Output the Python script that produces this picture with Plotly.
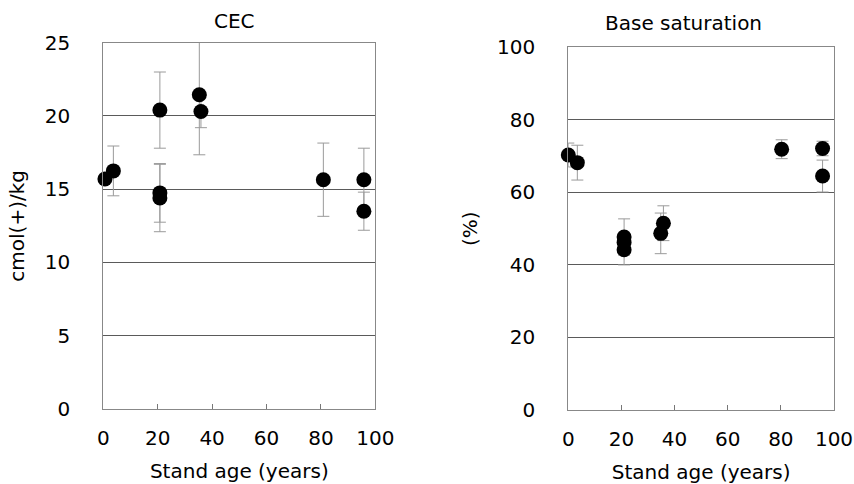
import plotly.graph_objects as go

# CEC panel
ages_cec = [0.6, 3.7, 20.8, 20.8, 20.8, 35.3, 35.9, 80.9, 95.8, 95.8]
cec = [15.7, 16.25, 20.4, 14.75, 14.4, 21.45, 20.3, 15.65, 15.65, 13.5]
cec_err = [0.0, 1.7, 2.6, 2.0, 2.3, 4.1, 1.1, 2.5, 2.15, 1.3]

# Base saturation panel
ages_bs = [0.0, 3.4, 21.0, 21.0, 21.0, 34.8, 35.8, 80.3, 95.7, 95.7]
bs = [70.3, 68.2, 47.7, 46.2, 44.2, 48.7, 51.5, 71.9, 72.1, 64.5]
bs_err = [3.3, 4.8, 5.0, 0.0, 4.2, 5.6, 4.8, 2.6, 2.0, 4.4]

x_ticks = [0, 20, 40, 60, 80, 100]
cec_ticks = [0, 5, 10, 15, 20, 25]
bs_ticks = [0, 20, 40, 60, 80, 100]

FONT = "DejaVu Sans"
W, H = 854, 484


def px(x):
    return x / W


def py(y):
    return (H - y) / H


fig = go.Figure()

err_style = dict(type="data", color="#9a9a9a", thickness=1, width=6)
mk = dict(color="black", size=15, symbol="circle")

fig.add_trace(go.Scatter(x=ages_cec, y=cec, mode="markers", marker=mk,
                         error_y=dict(array=cec_err, **err_style),
                         xaxis="x", yaxis="y", cliponaxis=False, showlegend=False))
fig.add_trace(go.Scatter(x=ages_bs, y=bs, mode="markers", marker=mk,
                         error_y=dict(array=bs_err, **err_style),
                         xaxis="x2", yaxis="y2", cliponaxis=False, showlegend=False))


def xax(domain, anchor):
    return dict(domain=domain, anchor=anchor, range=[0, 100], tickvals=x_ticks,
                ticks="inside", ticklen=5, tickcolor="#777", showgrid=False,
                showline=True, linecolor="#888", linewidth=1, mirror=True,
                zeroline=False, ticklabelstandoff=11, automargin=False,
                tickfont=dict(family=FONT, size=20, color="black"),
                title=dict(text="Stand age (years)", standoff=14,
                           font=dict(family=FONT, size=20, color="black")))


def yax(domain, anchor, rng, tv, title, standoff):
    return dict(domain=domain, anchor=anchor, range=rng, tickvals=tv, ticks="",
                showgrid=True, gridcolor="#5a5a5a", gridwidth=1,
                showline=True, linecolor="#888", linewidth=1, mirror=True,
                zeroline=False, ticklabelstandoff=28, automargin=False,
                tickfont=dict(family=FONT, size=20, color="black"),
                title=dict(text=title, standoff=standoff,
                           font=dict(family=FONT, size=20, color="black")))


fig.update_layout(
    width=W, height=H,
    margin=dict(l=0, r=0, t=0, b=0, autoexpand=False),
    paper_bgcolor="white", plot_bgcolor="white",
    hovermode=False,
    xaxis=xax([px(103.3), px(375.3)], "y"),
    yaxis=yax([py(409), py(42.7)], "x", [0, 25], cec_ticks, "cmol(+)/kg", 14),
    xaxis2=xax([px(568.3), px(834)], "y2"),
    yaxis2=yax([py(410), py(47.3)], "x2", [0, 100], bs_ticks, "(%)", 14),
    annotations=[
        dict(text="CEC", x=px(235), y=py(21), xref="paper", yref="paper",
             xanchor="center", yanchor="middle",
             showarrow=False, font=dict(family=FONT, size=20, color="black")),
        dict(text="Base saturation", x=px(683), y=py(23), xref="paper", yref="paper",
             xanchor="center", yanchor="middle",
             showarrow=False, font=dict(family=FONT, size=20, color="black")),
    ],
)

fig.write_html(
    "out.html",
    config={"displayModeBar": False},
    post_script="document.body.style.margin='0';document.body.style.overflow='hidden';",
)
